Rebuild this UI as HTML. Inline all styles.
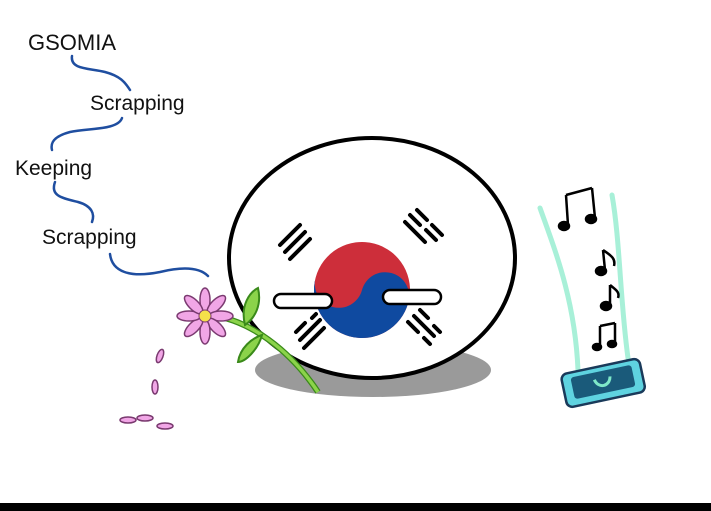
<!DOCTYPE html>
<html><head><meta charset="utf-8"><style>
html,body{margin:0;padding:0;background:#fff;width:711px;height:511px;overflow:hidden}
svg{display:block}
text{font-family:"Liberation Sans",sans-serif;fill:#111}
</style></head><body>
<svg width="711" height="511" viewBox="0 0 711 511">
<rect width="711" height="511" fill="#fff"/>
<rect x="0" y="503" width="711" height="8" fill="#000"/>
<text x="28" y="50" font-size="22">GSOMIA</text>
<text x="90" y="110" font-size="21">Scrapping</text>
<text x="15" y="175" font-size="21">Keeping</text>
<text x="42" y="244" font-size="21">Scrapping</text>
<g fill="none" stroke="#1f4ea0" stroke-width="2.5" stroke-linecap="round">
<path d="M72,56 C70,70 90,68 105,72 C120,76 125,82 130,90"/>
<path d="M122,118 C118,130 90,128 70,132 C55,136 50,142 52,150"/>
<path d="M55,182 C50,196 62,198 78,202 C92,206 95,214 92,222"/>
<path d="M110,254 C112,272 130,278 160,272 C185,266 200,268 208,276"/>
</g>
<ellipse cx="373" cy="370" rx="118" ry="27" fill="#9a9a9a"/>
<ellipse cx="372" cy="258" rx="143" ry="120" fill="#fff" stroke="#000" stroke-width="4"/>
<g transform="rotate(15 362 290)">
<circle cx="362" cy="290" r="48" fill="#cd2e3a"/>
<path d="M314,290 A48,48 0 0,0 410,290 A24,24 0 0,0 362,290 A24,24 0 0,1 314,290Z" fill="#0f4aa0"/>
</g>
<g stroke="#000" stroke-width="4" stroke-linecap="round">
<path d="M280,245 L300,225 M285,252 L305,232 M290,259 L310,239"/>
<path d="M405,222 L425,242 M410,215 L420,225 M426,230 L436,240 M417,210 L427,220 M432,225 L442,235"/>
<path d="M300,340 L320,320 M296,332 L305,323 M312,318 L316,314 M304,348 L324,328"/>
<path d="M408,322 L418,332 M424,338 L430,344 M414,316 L434,336 M420,310 L428,318 M434,326 L440,332"/>
</g>
<rect x="274" y="294" width="58" height="14" rx="7" fill="#fff" stroke="#000" stroke-width="2.5"/>
<rect x="383" y="290" width="58" height="14" rx="7" fill="#fff" stroke="#000" stroke-width="2.5"/>
<path d="M210,315 C250,320 290,350 318,392" stroke="#3a8a1a" stroke-width="6" fill="none"/>
<path d="M210,315 C250,320 290,350 318,392" stroke="#8bd34a" stroke-width="3.5" fill="none"/>
<path d="M245,325 C240,305 250,292 258,288 C262,305 255,318 245,325Z" fill="#8bd34a" stroke="#3a8a1a" stroke-width="2"/>
<path d="M262,335 C258,350 245,362 238,362 C240,348 252,338 262,335Z" fill="#8bd34a" stroke="#3a8a1a" stroke-width="2"/>
<g fill="#f1a6e6" stroke="#7a3a70" stroke-width="1.5">
<ellipse cx="205" cy="300" rx="5" ry="12"/>
<ellipse cx="205" cy="300" rx="5" ry="12" transform="rotate(45 205 316)"/>
<ellipse cx="205" cy="300" rx="5" ry="12" transform="rotate(90 205 316)"/>
<ellipse cx="205" cy="300" rx="5" ry="12" transform="rotate(135 205 316)"/>
<ellipse cx="205" cy="300" rx="5" ry="12" transform="rotate(180 205 316)"/>
<ellipse cx="205" cy="300" rx="5" ry="12" transform="rotate(225 205 316)"/>
<ellipse cx="205" cy="300" rx="5" ry="12" transform="rotate(270 205 316)"/>
<ellipse cx="205" cy="300" rx="5" ry="12" transform="rotate(315 205 316)"/>
<ellipse cx="160" cy="356" rx="3" ry="7" transform="rotate(20 160 356)"/>
<ellipse cx="155" cy="387" rx="3" ry="7"/>
<ellipse cx="128" cy="420" rx="8" ry="3"/>
<ellipse cx="145" cy="418" rx="8" ry="3"/>
<ellipse cx="165" cy="426" rx="8" ry="3"/>
</g>
<circle cx="205" cy="316" r="6" fill="#f5e04a" stroke="#7a3a70" stroke-width="1"/>
<g fill="none" stroke="#a8f0d8" stroke-width="5" stroke-linecap="round">
<path d="M540,208 C555,250 575,300 578,370"/>
<path d="M612,195 C620,240 620,300 628,358"/>
</g>
<g stroke="#000" stroke-width="2.5" fill="#000">
<path d="M566,195 L568,225 M592,188 L595,218 M566,195 L592,188" fill="none"/>
<ellipse cx="564" cy="226" rx="5" ry="4"/><ellipse cx="591" cy="219" rx="5" ry="4"/>
<path d="M603,250 L605,270 M603,250 C610,255 616,258 614,266" fill="none"/><ellipse cx="601" cy="271" rx="5" ry="4"/>
<path d="M610,285 L610,305 M610,285 C616,290 620,292 618,298" fill="none"/><ellipse cx="606" cy="306" rx="5" ry="4"/>
<path d="M600,326 L600,346 M615,323 L615,343 M600,326 L615,323" fill="none"/><ellipse cx="597" cy="347" rx="4" ry="3"/><ellipse cx="612" cy="344" rx="4" ry="3"/>
</g>
<g transform="rotate(-12 603 382)">
<rect x="563" y="366" width="80" height="34" rx="6" fill="#5fd3e0" stroke="#1a3a5a" stroke-width="2.5"/>
<rect x="572" y="371" width="62" height="22" rx="3" fill="#1a5a7a"/>
<path d="M595,378 C597,388 609,388 611,378" stroke="#7fe8c8" stroke-width="3" fill="none"/>
</g>
</svg>
</body></html>
